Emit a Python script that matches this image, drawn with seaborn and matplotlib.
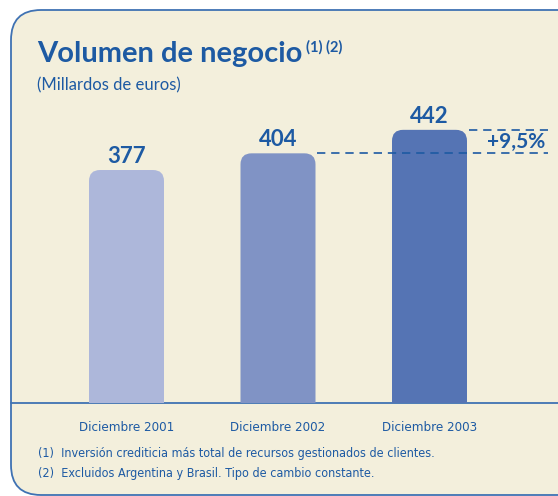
import matplotlib
matplotlib.use("Agg")
import matplotlib.pyplot as plt
from matplotlib.patches import FancyBboxPatch
import seaborn as sns
import pandas as pd

categories = ["Diciembre 2001", "Diciembre 2002", "Diciembre 2003"]
values = [377, 404, 442]
value_labels = ["377", "404", "442"]
growth_label = "+9,5%"
title = "Volumen de negocio"
title_sup = "(1) (2)"
subtitle = "(Millardos de euros)"
footnotes = ["(1)  Inversión crediticia más total de recursos gestionados de clientes.",
             "(2)  Excluidos Argentina y Brasil. Tipo de cambio constante."]

bar_colors = ["#adb7da", "#8093c5", "#5574b4"]
text_blue = "#1d5aa3"
border_blue = "#3f72b3"
panel_bg = "#f3efdc"

sns.set_theme(style="white")
plt.rcParams["font.family"] = ["Lato", "DejaVu Sans"]

W, H = 558, 496
fig = plt.figure(figsize=(W / 100, H / 100), dpi=100)
fig.patch.set_facecolor("white")

bg = fig.add_axes([0, 0, 1, 1])
bg.set_xlim(0, W)
bg.set_ylim(H, 0)
bg.axis("off")
panel = FancyBboxPatch((11, 10), W + 40, H + 30 - 10 - 31,
                       boxstyle="round,pad=0,rounding_size=30",
                       facecolor=panel_bg, edgecolor=border_blue, linewidth=1.3)
bg.add_patch(panel)
bg.plot([11, W], [403, 403], color=border_blue, lw=1.3)

narrow_kw = dict(family="DejaVu Sans", fontstretch="condensed")

bg.text(37, 62, title, fontsize=21, fontweight="bold", color=text_blue,
        va="baseline", ha="left")
bg.text(306, 52, title_sup, fontsize=10.5, fontweight="bold", color=text_blue,
        va="baseline", ha="left")
bg.text(37, 90, subtitle, fontsize=12, color=text_blue, va="baseline", ha="left")
for i, fn in enumerate(footnotes):
    bg.text(38, 457 + 20 * i, fn, fontsize=9, color=text_blue,
            va="baseline", ha="left", **narrow_kw)

x0 = 126.5
step = 151.5
pxu = 0.618
left_px, right_px, base_px, top_px = 11, W, 403, 10
ax = fig.add_axes([left_px / W, (H - base_px) / H, (right_px - left_px) / W,
                   (base_px - top_px) / H])
ax.set_facecolor("none")
df = pd.DataFrame({"cat": categories, "val": values})
sns.barplot(data=df, x="cat", y="val", hue="cat", palette=bar_colors,
            width=0.495, ax=ax, legend=False, saturation=1)
ax.set_xlim((left_px - x0) / step, (right_px - x0) / step)
ax.set_ylim(0, (base_px - top_px) / pxu)
for s in ax.spines.values():
    s.set_visible(False)
ax.set_yticks([])
ax.set_xlabel("")
ax.set_ylabel("")
ax.tick_params(axis="x", length=0, pad=13)
ax.set_xticks(range(len(categories)))
ax.set_xticklabels(categories, fontsize=9.5, color=text_blue, **narrow_kw)

rad_x = 11 / step
aspect = step / pxu
bar_geo = []
for p in list(ax.patches):
    x, w, h = p.get_x(), p.get_width(), p.get_height()
    fc = p.get_facecolor()
    p.set_visible(False)
    rb = FancyBboxPatch((x, -40), w, h + 40,
                        boxstyle=f"round,pad=0,rounding_size={rad_x}",
                        mutation_aspect=aspect, facecolor=fc, edgecolor="none")
    ax.add_patch(rb)
    bar_geo.append((x, w, h))

bar_geo.sort()
for (x, w, h), lab in zip(bar_geo, value_labels):
    ax.text(x + w / 2, h + 7 / pxu, lab, ha="center", va="baseline",
            fontsize=16, fontweight="bold", color=text_blue)

end_x = (548 - x0) / step
for (x, w, h) in bar_geo[1:]:
    ax.plot([x + w + 2 / step, end_x], [h, h], color=text_blue, lw=1.2,
            linestyle=(0, (5, 3.5)))
ax.text(end_x - 3 / step, (values[1] + values[2]) / 2, growth_label,
        ha="right", va="center", fontsize=15, fontweight="bold",
        color=text_blue)

fig.savefig("out.png", dpi=100, facecolor="white")
